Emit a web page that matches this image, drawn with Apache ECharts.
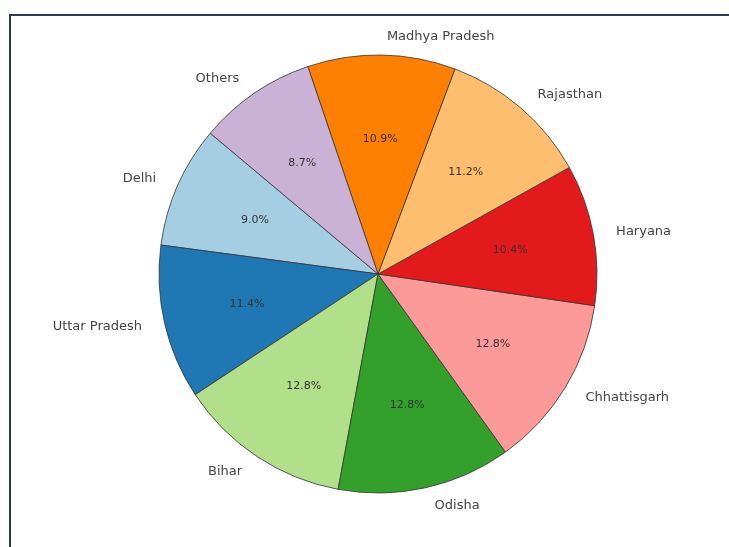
<!DOCTYPE html>
<html>
<head>
<meta charset="utf-8">
<script src="https://cdn.jsdelivr.net/npm/echarts@6/dist/echarts.min.js"></script>
<style>
  html, body { margin: 0; padding: 0; background: #fff; }
  #main { width: 729px; height: 547px; }
</style>
</head>
<body>
<div id="main"></div>
<script>
// data, in the order the slices run counter-clockwise
var states = ['Delhi', 'Uttar Pradesh', 'Bihar', 'Odisha', 'Chhattisgarh', 'Haryana', 'Rajasthan', 'Madhya Pradesh', 'Others'];
var shares = [9.0, 11.4, 12.8, 12.8, 12.8, 10.4, 11.2, 10.9, 8.7];
var colors = ['#a6cee3', '#1f78b4', '#b2df8a', '#33a02c', '#fb9a99', '#e31a1c', '#fdbf6f', '#ff7f00', '#cab2d6'];

var chart_dom = document.getElementById('main');
var chart = echarts.init(chart_dom);

var pie_data = states.map(function (name, i) {
    return {name: name, value: shares[i], itemStyle: {color: colors[i]}};
});

var R = 219;
var center = [378, 274];

chart.setOption({
    animation: false,
    graphic: [
        {type: 'line', shape: {x1: 9, y1: 15, x2: 729, y2: 15}, style: {stroke: '#2e3a52', lineWidth: 2}},
        {type: 'line', shape: {x1: 10, y1: 14, x2: 10, y2: 547}, style: {stroke: '#2e3a52', lineWidth: 2}}
    ],
    series: [
        {
            // slices + outer name labels
            type: 'pie',
            center: center,
            radius: [0, R],
            startAngle: 140,
            clockwise: false,
            avoidLabelOverlap: false,
            data: pie_data,
            itemStyle: {borderColor: '#333', borderWidth: 0.8},
            label: {
                show: true,
                position: 'outside',
                formatter: '{b}',
                color: '#444',
                fontFamily: 'DejaVu Sans',
                fontSize: 13
            },
            labelLine: {show: false, length: 18, length2: 0},
            emphasis: {disabled: true}
        },
        {
            // percentage labels at 0.6 R
            type: 'pie',
            center: center,
            radius: [Math.round(R * 0.2), R],
            startAngle: 140,
            clockwise: false,
            silent: true,
            data: pie_data.map(function (d) {
                return {name: d.name, value: d.value, itemStyle: {color: 'rgba(0,0,0,0)'}};
            }),
            label: {
                show: true,
                position: 'inside',
                formatter: function (p) { return p.value.toFixed(1) + '%'; },
                color: '#333',
                fontFamily: 'DejaVu Sans',
                fontSize: 11
            },
            labelLine: {show: false},
            emphasis: {disabled: true}
        }
    ]
});
</script>
</body>
</html>
